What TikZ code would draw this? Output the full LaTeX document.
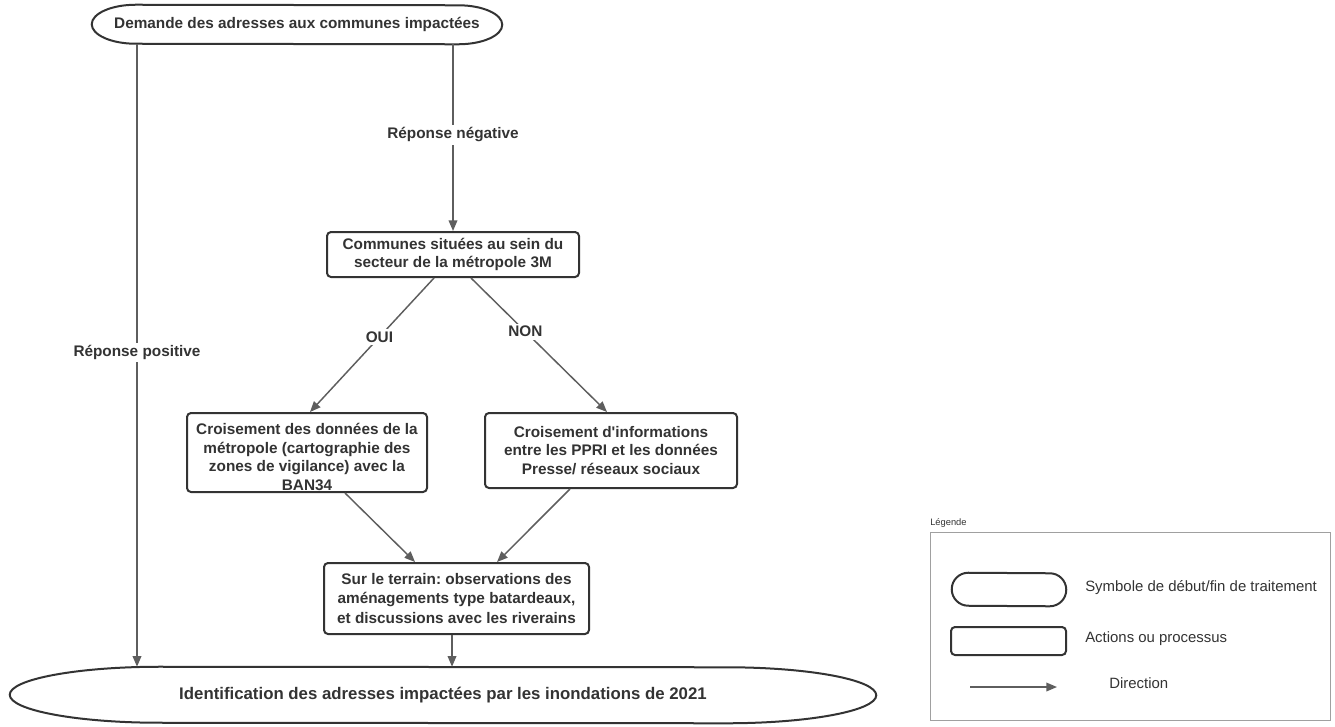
\documentclass[tikz,border=0pt]{standalone}
\usepackage{fontspec}
\setmainfont{Liberation Sans}[Ligatures=TeXOff]
\usetikzlibrary{arrows.meta,calc}
\definecolor{txt}{HTML}{333333}
\definecolor{conncol}{HTML}{5E5E5E}
\definecolor{framecol}{HTML}{A0A0A0}
\frenchspacing
\begin{document}
\begin{tikzpicture}[x=0.75pt,y=-0.75pt,
  boldfont/.style={font=\fontsize{11.5}{13.8}\selectfont\bfseries},
  box/.style={draw=txt, line width=1.5pt, rounded corners=3pt, fill=white, align=center,
    inner sep=0pt, boldfont, text=txt},
  boxtext/.style={align=center, inner sep=0pt, boldfont, text=txt},
  ovaltext/.style={inner sep=0pt, boldfont, text=txt},
  outline/.style={draw=txt, line width=1.5pt},
  conn/.style={draw=conncol, line width=1.1pt, -{Triangle[length=8pt,width=6.5pt]}},
  edgelbl/.style={fill=white, inner sep=2pt, boldfont, text=txt},
  legtext/.style={font=\fontsize{11.2}{13}\selectfont, text=txt, inner sep=0pt}]
\useasboundingbox (0,0) rectangle (1335,726);

% start oval
\node[ovaltext, minimum width=307.5pt, minimum height=29.25pt] (top) at (297,24.5)
  {Demande des adresses aux communes impactées};
\draw[outline] ([xshift=33pt]top.north west)
  arc[start angle=90,end angle=270,x radius=33pt,y radius=14.625pt]
  -- ([xshift=-33pt]top.south east)
  arc[start angle=-90,end angle=90,x radius=33pt,y radius=14.625pt] -- cycle;

% end oval
\node[ovaltext, font=\fontsize{12.6}{14}\selectfont\bfseries, minimum width=649.5pt, minimum height=42pt] (bot) at (443,695)
  {Identification des adresses impactées par les inondations de 2021};
\draw[outline] ([xshift=112.5pt]bot.north west)
  arc[start angle=90,end angle=270,x radius=112.5pt,y radius=21pt]
  -- ([xshift=-112.5pt]bot.south east)
  arc[start angle=-90,end angle=90,x radius=112.5pt,y radius=21pt] -- cycle;

% process boxes
\node[box, minimum width=189pt, minimum height=33.75pt] (b1) at (453,254.5)
  {Communes situées au sein du\\secteur de la métropole 3M};
\node[box, minimum width=180pt, minimum height=59.25pt] (b2) at (307,452.5) {};
\node[boxtext] (b2t) at (307,457)
  {Croisement des données de la\\métropole (cartographie des\\zones de vigilance) avec la\\BAN34};
\node[box, minimum width=189pt, minimum height=56.25pt] (b3) at (611,450.5)
  {Croisement d'informations\\entre les PPRI et les données\\Presse/ réseaux sociaux};
\node[box, minimum width=198.75pt, minimum height=53.25pt, font=\fontsize{11.5}{14.6}\selectfont\bfseries] (b4) at (456.5,598.5)
  {Sur le terrain: observations des\\aménagements type batardeaux,\\et discussions avec les riverains};

% connectors
\coordinate (xl) at (137,0);
\coordinate (xb) at (452,0);
\draw[conn] (top.south -| xl) -- node[edgelbl,pos=0.495]{Réponse positive} (bot.north -| xl);
\draw[conn] (top.south -| b1.north) -- node[edgelbl,pos=0.484]{Réponse négative} (b1.north);
\draw[conn] ([xshift=-14.25pt]b1.south) -- node[edgelbl,pos=0.44]{OUI} ([xshift=2.25pt]b2.north);
\draw[conn] ([xshift=13.5pt]b1.south) -- node[edgelbl,pos=0.4]{NON} ([xshift=-3pt]b3.north);
\draw[conn] ([xshift=28.5pt]b2.south) -- ([xshift=-31.1pt]b4.north);
\draw[conn] ([xshift=-30.75pt]b3.south) -- ([xshift=30.4pt]b4.north);
\draw[conn] (b4.south -| xb) -- (bot.north -| xb);

% legend
\node[anchor=south west, font=\fontsize{7}{8}\selectfont, text=txt, inner sep=0pt] (lg) at (930,528) {Légende};
\node[draw=framecol, line width=0.75pt, minimum width=300pt, minimum height=141pt, anchor=north west, inner sep=0pt] (frm) at (930,532) {};
\node[minimum width=85.5pt, minimum height=24.75pt, inner sep=0pt] (lov) at (1009,589.5) {};
\draw[outline] ([xshift=12.375pt]lov.north west)
  arc[start angle=90,end angle=270,radius=12.375pt]
  -- ([xshift=-12.375pt]lov.south east)
  arc[start angle=-90,end angle=90,radius=12.375pt] -- cycle;
\node[draw=txt, line width=1.5pt, rounded corners=3pt, minimum width=86.25pt, minimum height=21pt, inner sep=0pt] (lrc) at (1008.5,641) {};
\coordinate (la1) at (970,687);
\coordinate (la2) at (1057,687);
\draw[conn] (la1) -- (la2);
\node[legtext, anchor=west] (t1) at (1085,588) {Symbole de début/fin de traitement};
\node[legtext, anchor=west] (t2) at (1085,639) {Actions ou processus};
\node[legtext, anchor=west] (t3) at (1109,683) {Direction};
\end{tikzpicture}
\end{document}
